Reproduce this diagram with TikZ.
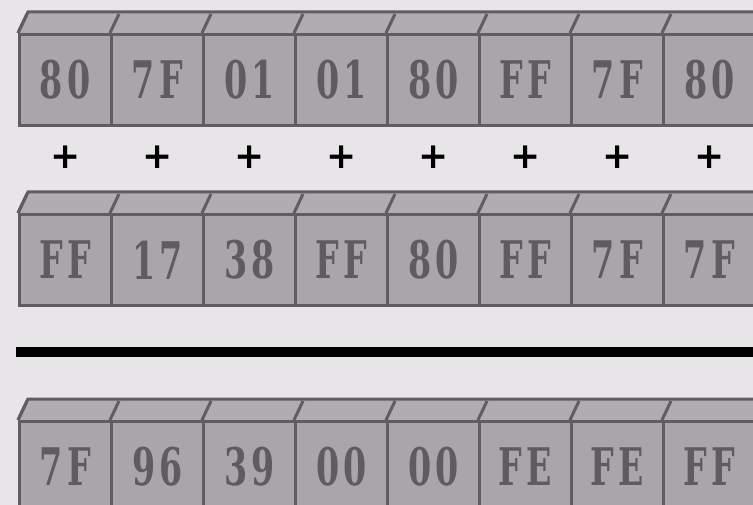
\documentclass[tikz,border=0pt]{standalone}
\usepackage{fontspec}
\newfontfamily\cellfont[LetterSpace=14]{DejaVu Serif}
\newfontfamily\plusfont{DejaVu Sans}
\definecolor{bg}{HTML}{E8E5E9}
\definecolor{frontc}{HTML}{A8A6A9}
\definecolor{topc}{HTML}{AFADB0}
\definecolor{edgec}{HTML}{5F5D60}
\definecolor{txtc}{HTML}{5E5C5F}
\begin{document}
\begin{tikzpicture}[x=1pt,y=-1pt,
  cell/.style={draw=edgec, fill=frontc, line width=3pt, minimum width=92pt, minimum height=91pt, inner sep=0pt, text=txtc,
    anchor=north west, font=\cellfont\bfseries\fontsize{37}{37}\selectfont},
  plussign/.style={font=\plusfont\bfseries\fontsize{36}{36}\selectfont, inner sep=0pt},
  barline/.style={line width=9pt, draw=black}]
\fill[bg] (0,0) rectangle (753,505);
\useasboundingbox (0,0) rectangle (753,505);
\foreach \r/\ytop/\labels in {1/33/{80,7F,01,01,80,FF,7F,80},2/213/{FF,17,38,FF,80,FF,7F,7F},3/420/{7F,96,39,00,00,FE,FE,FF}}{
  \fill[topc] (18,\ytop) -- (28,\ytop-21) -- (760,\ytop-21) -- (760,\ytop) -- cycle;
  \foreach \t [count=\i] in \labels {
    \pgfmathsetmacro{\xl}{18+92*(\i-1)}
    \node[cell] (r\r c\i) at (\xl,\ytop) {\scalebox{0.9}[1.4]{\t}};
    \draw[edgec, line width=3pt] (r\r c\i.north west) -- ++(9,-19);
  }
  \draw[edgec, line width=3pt] (r\r c1.north west) -- ++(10,-21) -- (760,\ytop-21);
}
\foreach \i in {1,...,8}{
  \node[plussign] (p\i) at ([yshift=-30pt]r1c\i.south) {+};
}
\coordinate (barL) at (16,352);
\coordinate (barR) at (753,352);
\draw[barline] (barL) -- (barR);
\end{tikzpicture}
\end{document}
